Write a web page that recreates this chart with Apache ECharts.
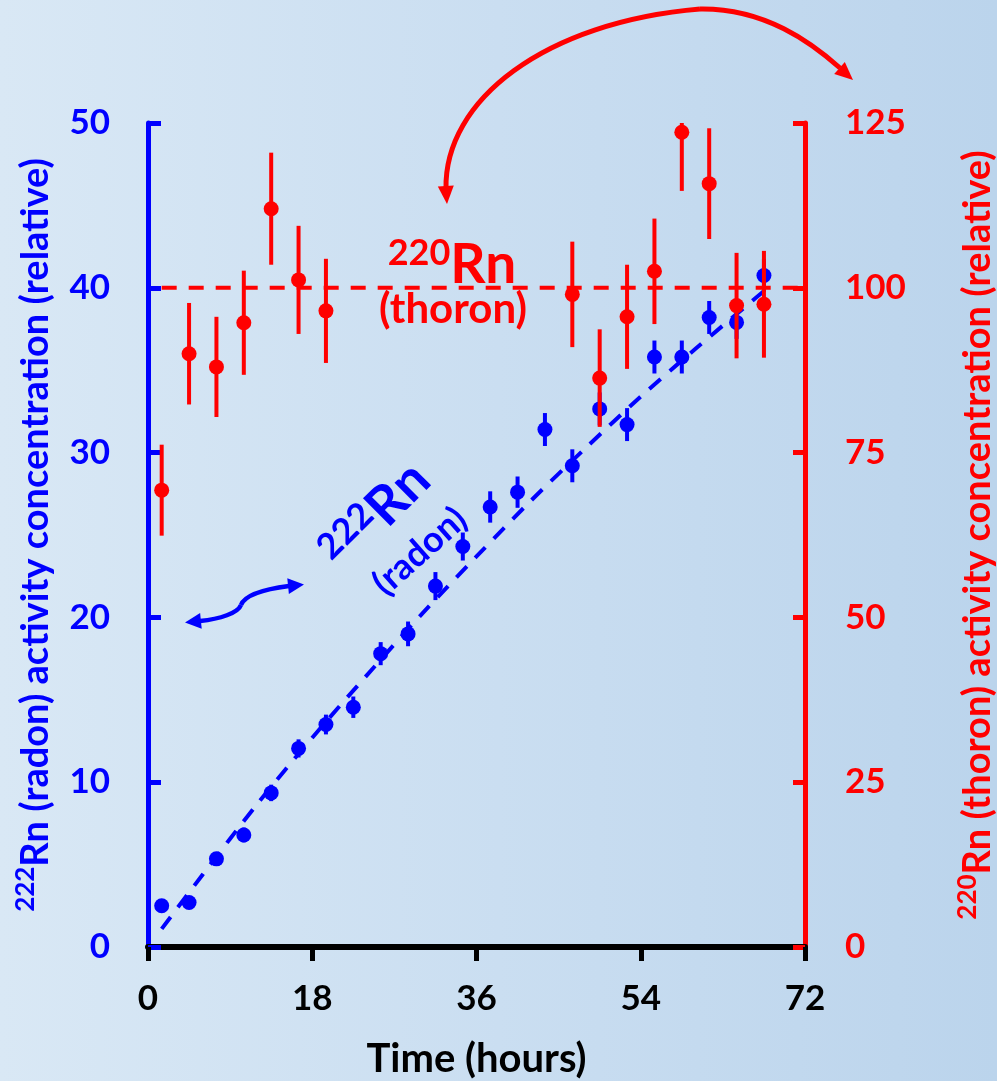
<!DOCTYPE html>
<html><head><meta charset="utf-8">
<script src="https://cdn.jsdelivr.net/npm/echarts@6/dist/echarts.min.js"></script>
<style>
html,body{margin:0;padding:0;width:997px;height:1081px;overflow:hidden;}
body{background:linear-gradient(90deg,#d9e8f5 0%,#cadef1 50%,#bbd4ec 100%);}
#c{width:997px;height:1081px;}
</style>
</head><body><div id="c"></div>
<script>
// ---- data ----
const xTicks = [0, 18, 36, 54, 72];
const radonTicks = [0, 10, 20, 30, 40, 50];
const thoronTicks = [0, 25, 50, 75, 100, 125];

const radonHours = [1.5, 4.5, 7.5, 10.5, 13.5, 16.5, 19.5, 22.5, 25.5, 28.5, 31.5, 34.5, 37.5, 40.5, 43.5, 46.5, 49.5, 52.5, 55.5, 58.5, 61.5, 64.5, 67.5];
const radonValues = [2.5, 2.7, 5.35, 6.8, 9.35, 12.05, 13.5, 14.55, 17.8, 19.0, 21.9, 24.3, 26.7, 27.6, 31.4, 29.2, 32.65, 31.7, 35.8, 35.8, 38.2, 37.9, 40.75];
const radonErrors = [0.3, 0.3, 0.4, 0.45, 0.5, 0.55, 0.6, 0.65, 0.7, 0.75, 0.85, 0.85, 0.95, 0.95, 1.0, 1.0, 1.0, 1.0, 1.0, 1.0, 1.0, 1.0, 1.0];

const radonCurveHours = [1.5, 6, 12, 18, 24, 30, 36, 42, 48, 54, 60, 67.5];
const radonCurveValues = [1.1, 4.4, 8.7, 12.7, 16.5, 20.2, 23.7, 27.1, 30.3, 33.4, 36.3, 39.8];

const thoronHours = [1.5, 4.5, 7.5, 10.5, 13.5, 16.5, 19.5, 46.5, 49.5, 52.5, 55.5, 58.5, 61.5, 64.5, 67.5];
const thoronValues = [69.3, 90.0, 88.0, 94.7, 112.0, 101.2, 96.5, 99.0, 86.3, 95.6, 102.5, 123.6, 115.8, 97.3, 97.5];
const thoronErrors = [6.9, 7.7, 7.6, 7.9, 8.5, 8.2, 7.9, 8.0, 7.4, 7.9, 8.0, 8.9, 8.4, 8.0, 8.1];

const thoronLineHours = [1.5, 71.5];
const thoronLineValues = [100, 100];

// ---- styles ----
const BLUE = '#0000ff', RED = '#ff0000', BLACK = '#000000';
const FONT = 'Lato';

const chart = echarts.init(document.getElementById('c'), null, {renderer: 'canvas'});

function errorBars(hours, vals, errs, yIdx, color, maxV, z) {
  return {
    type: 'custom', yAxisIndex: yIdx, z: z, silent: true,
    data: hours.map((h, i) => [h, vals[i] - errs[i], Math.min(vals[i] + errs[i], maxV)]),
    encode: {x: 0, y: [1, 2]},
    renderItem: function (params, api) {
      const lo = api.coord([api.value(0), api.value(1)]);
      const hi = api.coord([api.value(0), api.value(2)]);
      return {type: 'line', shape: {x1: lo[0], y1: lo[1], x2: hi[0], y2: hi[1]},
              style: {stroke: color, lineWidth: 4}};
    }
  };
}

function arrowHead(tip, from, len, halfW, color) {
  const dx = tip[0] - from[0], dy = tip[1] - from[1];
  const d = Math.sqrt(dx * dx + dy * dy);
  const ux = dx / d, uy = dy / d;
  const bx = tip[0] - ux * len, by = tip[1] - uy * len;
  return {type: 'polygon', silent: true, z: 10,
    shape: {points: [[tip[0], tip[1]], [bx - uy * halfW, by + ux * halfW], [bx + uy * halfW, by - ux * halfW]]},
    style: {fill: color}};
}

function curve(p, color, w) {
  return {type: 'bezierCurve', silent: true, z: 10,
    shape: {x1: p[0], y1: p[1], cpx1: p[2], cpy1: p[3], cpx2: p[4], cpy2: p[5], x2: p[6], y2: p[7]},
    style: {stroke: color, lineWidth: w, fill: null}};
}

// colorKey: 'color' for option text styles, 'fill' for graphic elements
const supRich = (colorKey, color, big, small, bigLH, smallLH) => ({
  s: {fontSize: small, fontWeight: 'bold', fontFamily: FONT, [colorKey]: color, verticalAlign: 'top', lineHeight: smallLH},
  b: {fontSize: big, fontWeight: 'bold', fontFamily: FONT, [colorKey]: color, lineHeight: bigLH}
});

const option = {
  animation: false,
  backgroundColor: 'transparent',
  grid: {left: 148, right: 192, top: 123, bottom: 134, containLabel: false, outerBoundsMode: 'none'},
  xAxis: {
    type: 'value', min: xTicks[0], max: xTicks[xTicks.length - 1], interval: xTicks[1] - xTicks[0],
    axisLine: {show: true, onZero: false, lineStyle: {color: BLACK, width: 6}},
    axisTick: {show: true, inside: false, length: 14, lineStyle: {color: BLACK, width: 5}},
    axisLabel: {color: BLACK, fontSize: 35, fontWeight: 'bold', fontFamily: FONT, margin: 34},
    splitLine: {show: false},
    name: 'Time (hours)', nameLocation: 'middle', nameGap: 92,
    nameTextStyle: {color: BLACK, fontSize: 40, fontWeight: 'bold', fontFamily: FONT}
  },
  yAxis: [
    {
      type: 'value', position: 'left', min: radonTicks[0], max: radonTicks[radonTicks.length - 1],
      interval: radonTicks[1] - radonTicks[0],
      axisLine: {show: true, lineStyle: {color: BLUE, width: 5}},
      axisTick: {show: true, inside: true, length: 13, lineStyle: {color: BLUE, width: 5}},
      axisLabel: {color: BLUE, fontSize: 35, fontWeight: 'bold', fontFamily: FONT, margin: 38},
      splitLine: {show: false},
      name: '{s|222}{b|Rn (radon) activity concentration (relative)}',
      nameLocation: 'middle', nameRotate: 90, nameGap: 89,
      nameTextStyle: {rich: supRich('color', BLUE, 38, 26, 46, 27)}
    },
    {
      type: 'value', position: 'right', min: thoronTicks[0], max: thoronTicks[thoronTicks.length - 1],
      interval: thoronTicks[1] - thoronTicks[0],
      axisLine: {show: true, lineStyle: {color: RED, width: 5}},
      axisTick: {show: true, inside: true, length: 12, lineStyle: {color: RED, width: 5}},
      axisLabel: {color: RED, fontSize: 35, fontWeight: 'bold', fontFamily: FONT, margin: 40},
      splitLine: {show: false},
      name: '{s|220}{b|Rn (thoron) activity concentration (relative)}',
      nameLocation: 'middle', nameRotate: 90, nameGap: 150,
      nameTextStyle: {rich: supRich('color', RED, 38, 26, 46, 27)}
    }
  ],
  series: [
    {
      type: 'line', yAxisIndex: 0, z: 2, smooth: 0.3, symbol: 'none', silent: true,
      data: radonCurveHours.map((h, i) => [h, radonCurveValues[i]]),
      lineStyle: {color: BLUE, width: 4, type: [15, 12]}
    },
    errorBars(radonHours, radonValues, radonErrors, 0, BLUE, 50, 3),
    {
      type: 'scatter', yAxisIndex: 0, z: 4, symbol: 'circle', symbolSize: 15, silent: true,
      data: radonHours.map((h, i) => [h, radonValues[i]]),
      itemStyle: {color: BLUE, opacity: 1}
    },
    {
      type: 'line', yAxisIndex: 1, z: 5, symbol: 'none', silent: true,
      data: thoronLineHours.map((h, i) => [h, thoronLineValues[i]]),
      lineStyle: {color: RED, width: 4, type: [15, 12]}
    },
    errorBars(thoronHours, thoronValues, thoronErrors, 1, RED, 125, 6),
    {
      type: 'scatter', yAxisIndex: 1, z: 7, symbol: 'circle', symbolSize: 15, silent: true,
      data: thoronHours.map((h, i) => [h, thoronValues[i]]),
      itemStyle: {color: RED, opacity: 1}
    }
  ],
  graphic: [
    // 220Rn (thoron) label
    {type: 'text', x: 452, y: 265, silent: true, z: 10,
      style: {text: '{s|220}{b|Rn}', align: 'center', verticalAlign: 'middle', rich: supRich('fill', RED, 55, 36, 60, 34)}},
    {type: 'text', x: 453, y: 309, silent: true, z: 10,
      style: {text: '(thoron)', align: 'center', verticalAlign: 'middle', fill: RED, fontSize: 42, fontWeight: 'bold', fontFamily: FONT}},
    // 222Rn (radon) rotated label
    {type: 'group', x: 376, y: 516, rotation: Math.PI / 4, silent: true, z: 10,
      children: [
        {type: 'text', x: 0, y: 0,
          style: {text: '{s|222}{b|Rn}', align: 'center', verticalAlign: 'middle', rich: supRich('fill', BLUE, 54, 36, 58, 33)}},
        {type: 'text', x: 6, y: 56, rotation: -0.06,
          style: {text: '(radon)', align: 'center', verticalAlign: 'middle', fill: BLUE, fontSize: 36, fontWeight: 'bold', fontFamily: FONT}}
      ]},
    // red curved arrow
    curve([446, 189, 444, 100, 545, 22, 700, 9], RED, 5),
    curve([700, 9, 765, 8, 812, 43, 840, 68], RED, 5),
    arrowHead([447, 204], [446, 189], 18, 8, RED),
    arrowHead([853, 80], [840, 68.5], 18, 8, RED),
    // blue wiggle double arrow
    curve([200, 621, 220, 619, 238, 613, 241, 605], BLUE, 4.5),
    curve([241, 605, 244, 597, 258, 590, 289, 586], BLUE, 4.5),
    arrowHead([185, 622.5], [200, 621], 16, 8, BLUE),
    arrowHead([304, 584.5], [289, 586], 16, 8, BLUE)
  ]
};
chart.setOption(option);
</script>
</body></html>
